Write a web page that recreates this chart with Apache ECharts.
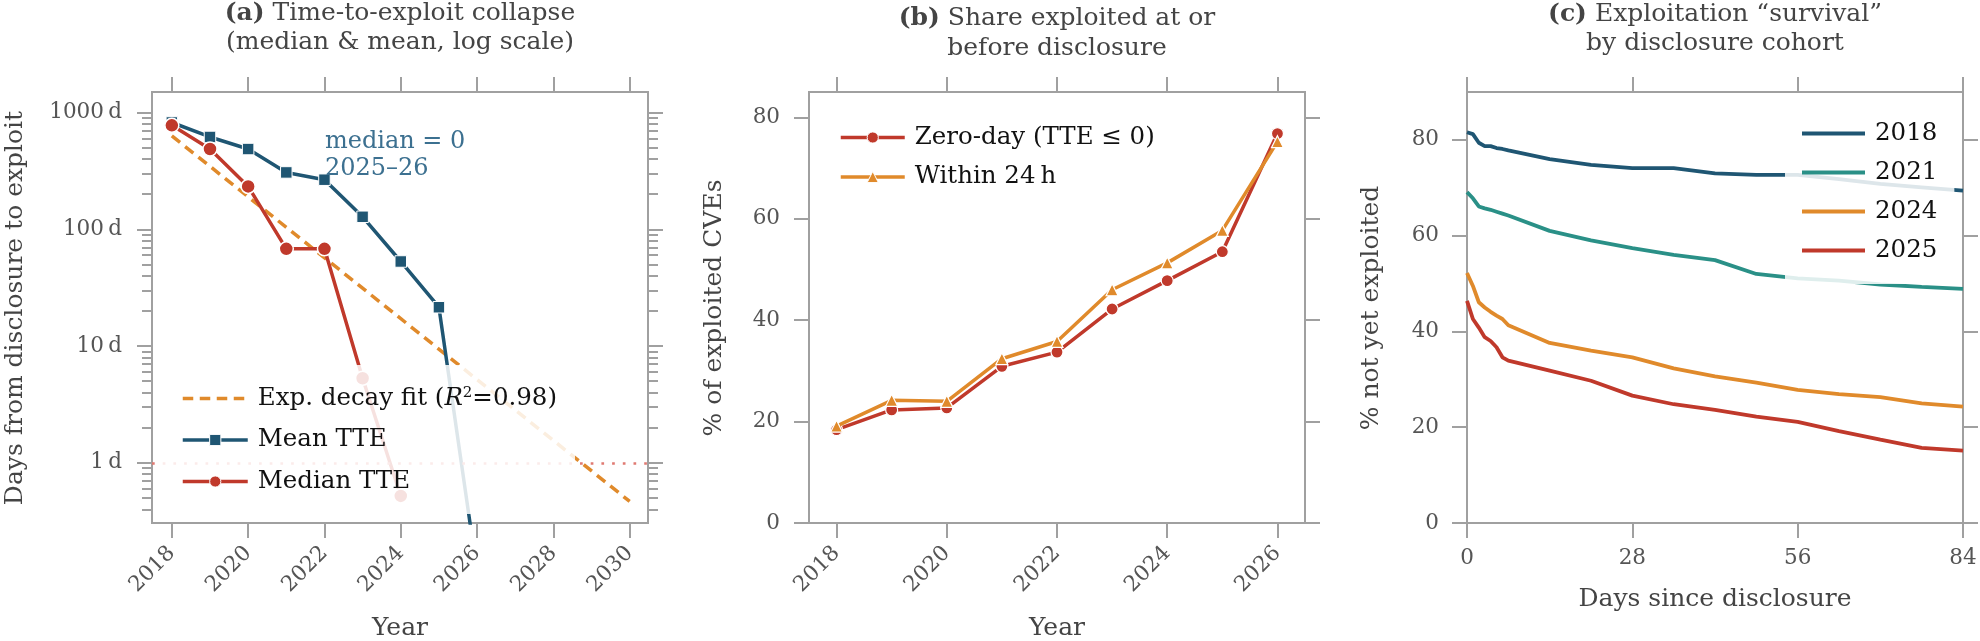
<!DOCTYPE html>
<html><head><meta charset="utf-8">
<script src="https://cdn.jsdelivr.net/npm/echarts@6/dist/echarts.min.js"></script>
<style>html,body{margin:0;padding:0;background:#fff}#c{width:1980px;height:641px}</style>
</head><body><div id="c"></div>
<script>
// ---------- Panel (a): time-to-exploit (days), log scale ----------
const meanYears   = [2018, 2019, 2020, 2021, 2022, 2023, 2024, 2025, 2026];
const meanTTE     = [822, 618, 487, 307, 266, 128, 53, 21.5, 0.116];
const medianYears = [2018, 2019, 2020, 2021, 2022, 2023, 2024];
const medianTTE   = [777, 487, 233, 68, 68, 5.3, 0.52];
const fitYears    = [2018, 2030];
const fitTTE      = [631, 0.467];
const aXTicks     = [2018, 2020, 2022, 2024, 2026, 2028, 2030];
const aYTicks     = [1, 10, 100, 1000];
const aYTickLabels = ['1\u2009d', '10\u2009d', '100\u2009d', '1000\u2009d'];
const aYMinorTicks = [0.4,0.5,0.6,0.7,0.8,0.9, 2,3,4,5,6,7,8,9, 20,30,40,50,60,70,80,90, 200,300,400,500,600,700,800,900];

// ---------- Panel (b): share exploited at/before disclosure (%) ----------
const bYears    = [2018, 2019, 2020, 2021, 2022, 2023, 2024, 2025, 2026];
const zeroDay   = [18.4, 22.3, 22.7, 30.9, 33.7, 42.2, 47.8, 53.5, 76.8];
const within24h = [19.1, 24.2, 24.0, 32.4, 35.8, 46.0, 51.3, 57.7, 75.2];
const bXTicks   = [2018, 2020, 2022, 2024, 2026];
const bYTicks   = [0, 20, 40, 60, 80];

// ---------- Panel (c): survival by cohort (% not yet exploited) ----------
const days   = [0, 1, 2, 3, 4, 5, 6, 7, 14, 21, 28, 35, 42, 49, 56, 63, 70, 77, 84];
const s2018  = [81.6, 81.2, 79.4, 78.7, 78.7, 78.3, 78.1, 77.8, 76.0, 74.8, 74.1, 74.1, 73.0, 72.7, 72.7, 71.8, 70.8, 70.1, 69.4];
const s2021  = [69.1, 67.8, 66.1, 65.7, 65.4, 65.0, 64.6, 64.2, 61.0, 59.0, 57.4, 56.0, 54.9, 52.0, 51.1, 50.6, 49.8, 49.3, 48.9];
const s2024  = [52.2, 49.5, 46.1, 45.0, 44.1, 43.3, 42.6, 41.3, 37.6, 36.0, 34.6, 32.3, 30.6, 29.3, 27.8, 26.9, 26.3, 25.0, 24.3];
const s2025  = [46.4, 42.6, 40.8, 38.8, 38.0, 36.7, 34.6, 33.9, 31.8, 29.7, 26.6, 24.8, 23.6, 22.2, 21.1, 19.2, 17.4, 15.7, 15.1];
const cXTicks = [0, 28, 56, 84];
const cYTicks = [0, 20, 40, 60, 80];

// ---------- styling ----------
const FONT = '"DejaVu Serif", "Liberation Serif", serif';
const GRAY = '#a0a0a0';
const TICKC = '#555';
const C_BLUE = '#1f5673', C_RED = '#c0392b', C_ORANGE = '#e08a2b', C_TEAL = '#2a9087';
const TICKFS = 21.5, LEGFS = 24.5, TITLEFS = 25, NAMEFS = 25;
const pairs = (xs, ys) => xs.map((x, i) => [x, ys[i]]);

function xAx(grid, min, max, ticks, opts) {
  opts = opts || {};
  const top = opts.top;
  return {
    type: 'value', gridIndex: grid, min: min, max: max, position: top ? 'top' : 'bottom',
    axisLine: { show: false, onZero: false }, splitLine: { show: false },
    axisTick: { show: true, customValues: ticks, length: 15, lineStyle: { color: GRAY, width: 2 } },
    axisLabel: top ? { show: false } : {
      show: true, customValues: ticks, rotate: opts.rotate || 0, margin: opts.margin || 26,
      fontFamily: FONT, fontSize: TICKFS, color: TICKC, formatter: v => String(v)
    }
  };
}
function yAx(grid, type, min, max, ticks, opts) {
  opts = opts || {};
  return {
    type: type, gridIndex: grid, min: min, max: max, position: opts.right ? 'right' : 'left',
    axisLine: { show: false, onZero: false }, splitLine: { show: false }, minorTick: { show: false },
    axisTick: { show: true, customValues: ticks, length: opts.len || 15, lineStyle: { color: GRAY, width: 2 } },
    axisLabel: opts.labels ? {
      show: true, customValues: ticks, margin: opts.margin || 29,
      fontFamily: FONT, fontSize: TICKFS, color: TICKC, formatter: opts.labels
    } : { show: false }
  };
}
const gridBase = { top: 92, height: 431, width: 496, show: true, borderColor: GRAY, borderWidth: 2,
  backgroundColor: 'transparent', containLabel: false, outerBoundsMode: 'none' };

const aLabel = v => { const i = aYTicks.indexOf(Math.round(v)); return i >= 0 ? aYTickLabels[i] : ''; };

function txt(x, y, text, size, color, extra) {
  return Object.assign({
    type: 'text', x: x, y: y, silent: true,
    style: Object.assign({ text: text, fill: color, fontFamily: FONT, fontSize: size,
      align: 'center', verticalAlign: 'middle', textAlign: 'center', textVerticalAlign: 'middle',
      rich: { b: { fontWeight: 'bold', fontFamily: FONT, fontSize: size, fill: color, color: color } } })
  }, extra || {});
}

const legendText = { fontFamily: FONT, fontSize: LEGFS, color: '#111', padding: [0, 0, 0, 5],
  rich: { i: { fontStyle: 'italic', fontFamily: FONT, fontSize: LEGFS, color: '#111' },
          s: { fontFamily: FONT, fontSize: 15, color: '#111', verticalAlign: 'top', lineHeight: 15 } } };

const option = {
  animation: false,
  backgroundColor: '#fff',
  textStyle: { fontFamily: FONT },
  grid: [
    Object.assign({}, gridBase, { left: 152 }),
    Object.assign({}, gridBase, { left: 809 }),
    Object.assign({}, gridBase, { left: 1467 })
  ],
  xAxis: [
    xAx(0, 2017.48, 2030.48, aXTicks, { rotate: 45, margin: 27 }),
    xAx(0, 2017.48, 2030.48, aXTicks, { top: true }),
    xAx(1, 2017.5, 2026.5, bXTicks, { rotate: 45, margin: 27 }),
    xAx(1, 2017.5, 2026.5, bXTicks, { top: true }),
    xAx(2, 0, 84, cXTicks, { margin: 24 }),
    xAx(2, 0, 84, cXTicks, { top: true })
  ],
  yAxis: [
    yAx(0, 'log', 0.305, 1500, aYTicks, { labels: aLabel, margin: 30 }),
    yAx(0, 'log', 0.305, 1500, aYMinorTicks, { len: 10 }),
    yAx(0, 'log', 0.305, 1500, aYTicks, { right: true }),
    yAx(0, 'log', 0.305, 1500, aYMinorTicks, { right: true, len: 10 }),
    yAx(1, 'value', 0, 85, bYTicks, { labels: v => String(v) }),
    yAx(1, 'value', 0, 85, bYTicks, { right: true }),
    yAx(2, 'value', 0, 90, cYTicks, { labels: v => String(v), margin: 28 }),
    yAx(2, 'value', 0, 90, cYTicks, { right: true })
  ],
  legend: [
    { data: ['Exp. decay fit', 'Mean TTE', 'Median TTE'], orient: 'vertical', left: 159, top: 365, z: 10,
      padding: [21, 18, 20, 22], itemWidth: 65, itemHeight: 14, itemGap: 16.5,
      backgroundColor: 'rgba(255,255,255,0.85)', selectedMode: false,
      lineStyle: { width: 3.5 }, itemStyle: { borderWidth: 1 },
      textStyle: legendText,
      formatter: n => n === 'Exp. decay fit' ? 'Exp. decay fit ({i|R}{s|2}=0.98)' : n },
    { data: ['Zero-day (TTE \u2264 0)', 'Within 24\u2009h'], orient: 'vertical', left: 817, top: 113, z: 10,
      padding: [12, 12, 12, 22], itemWidth: 64, itemHeight: 14, itemGap: 14.5,
      backgroundColor: 'rgba(255,255,255,0.85)', selectedMode: false,
      lineStyle: { width: 3.5 }, itemStyle: { borderWidth: 1 }, textStyle: legendText },
    { data: ['2018', '2021', '2024', '2025'], orient: 'vertical', left: 1785, top: 102, z: 10,
      padding: [19, 17, 21, 15], itemWidth: 63, itemHeight: 14, itemGap: 14,
      backgroundColor: 'rgba(255,255,255,0.85)', selectedMode: false,
      lineStyle: { width: 4 }, textStyle: legendText }
  ],
  series: [
    { name: 'Exp. decay fit', type: 'line', xAxisIndex: 0, yAxisIndex: 0, data: pairs(fitYears, fitTTE),
      symbol: 'none', itemStyle: { color: C_ORANGE, opacity: 0 }, z: 2,
      lineStyle: { color: C_ORANGE, width: 3.5, type: [10.5, 6.5] } },
    { name: 'Mean TTE', type: 'line', xAxisIndex: 0, yAxisIndex: 0, data: pairs(meanYears, meanTTE),
      symbol: 'rect', symbolSize: 11.5, z: 3,
      itemStyle: { color: C_BLUE, borderColor: '#fff', borderWidth: 1 },
      lineStyle: { color: C_BLUE, width: 3.5 },
      markPoint: { silent: true, symbol: 'circle', symbolSize: 1, itemStyle: { color: 'rgba(0,0,0,0)' },
        label: { show: true, position: 'right', distance: 0, formatter: 'median = 0\n2025\u201326',
          fontFamily: FONT, fontSize: 24, lineHeight: 27, color: '#3c7090', align: 'left' },
        data: [{ coord: [2022, 434] }] } },
    { name: 'Median TTE', type: 'line', xAxisIndex: 0, yAxisIndex: 0, data: pairs(medianYears, medianTTE),
      symbol: 'circle', symbolSize: 14, z: 4,
      itemStyle: { color: C_RED, borderColor: '#fff', borderWidth: 1.5 },
      lineStyle: { color: C_RED, width: 3.5 },
      markLine: { silent: true, symbol: ['none', 'none'], label: { show: false },
        lineStyle: { color: '#e07a72', width: 2.7, type: [2.7, 8] }, data: [{ yAxis: 1 }] } },

    { name: 'Zero-day (TTE \u2264 0)', type: 'line', xAxisIndex: 2, yAxisIndex: 4, data: pairs(bYears, zeroDay),
      symbol: 'circle', symbolSize: 12, z: 3,
      itemStyle: { color: C_RED, borderColor: '#fff', borderWidth: 1.2 },
      lineStyle: { color: C_RED, width: 3.5 } },
    { name: 'Within 24\u2009h', type: 'line', xAxisIndex: 2, yAxisIndex: 4, data: pairs(bYears, within24h),
      symbol: 'triangle', symbolSize: 12, z: 4,
      itemStyle: { color: C_ORANGE, borderColor: '#fff', borderWidth: 1.2 },
      lineStyle: { color: C_ORANGE, width: 3.5 } },

    { name: '2018', type: 'line', xAxisIndex: 4, yAxisIndex: 6, data: pairs(days, s2018), symbol: 'none',
      itemStyle: { color: C_BLUE, opacity: 0 }, lineStyle: { color: C_BLUE, width: 3.8 } },
    { name: '2021', type: 'line', xAxisIndex: 4, yAxisIndex: 6, data: pairs(days, s2021), symbol: 'none',
      itemStyle: { color: C_TEAL, opacity: 0 }, lineStyle: { color: C_TEAL, width: 3.8 } },
    { name: '2024', type: 'line', xAxisIndex: 4, yAxisIndex: 6, data: pairs(days, s2024), symbol: 'none',
      itemStyle: { color: C_ORANGE, opacity: 0 }, lineStyle: { color: C_ORANGE, width: 3.8 } },
    { name: '2025', type: 'line', xAxisIndex: 4, yAxisIndex: 6, data: pairs(days, s2025), symbol: 'none',
      itemStyle: { color: C_RED, opacity: 0 }, lineStyle: { color: C_RED, width: 3.8 } }
  ],
  graphic: [
    txt(400, 13, '{b|(a)} Time-to-exploit collapse', TITLEFS, '#444'),
    txt(400, 42, '(median & mean, log scale)', TITLEFS, '#444'),
    txt(1057, 18, '{b|(b)} Share exploited at or', TITLEFS, '#444'),
    txt(1057, 48, 'before disclosure', TITLEFS, '#444'),
    txt(1715, 14, '{b|(c)} Exploitation \u201csurvival\u201d', TITLEFS, '#444'),
    txt(1715, 43, 'by disclosure cohort', TITLEFS, '#444'),
    txt(15, 308, 'Days from disclosure to exploit', NAMEFS, '#444', { rotation: Math.PI / 2 }),
    txt(714, 308, '% of exploited CVEs', NAMEFS, '#444', { rotation: Math.PI / 2 }),
    txt(1371, 308, '% not yet exploited', NAMEFS, '#444', { rotation: Math.PI / 2 }),
    txt(400, 628, 'Year', NAMEFS, '#444'),
    txt(1057, 628, 'Year', NAMEFS, '#444'),
    txt(1715, 599, 'Days since disclosure', NAMEFS, '#444')
  ]
};
const chart = echarts.init(document.getElementById('c'), null, { renderer: 'canvas' });
chart.setOption(option);
</script></body></html>
